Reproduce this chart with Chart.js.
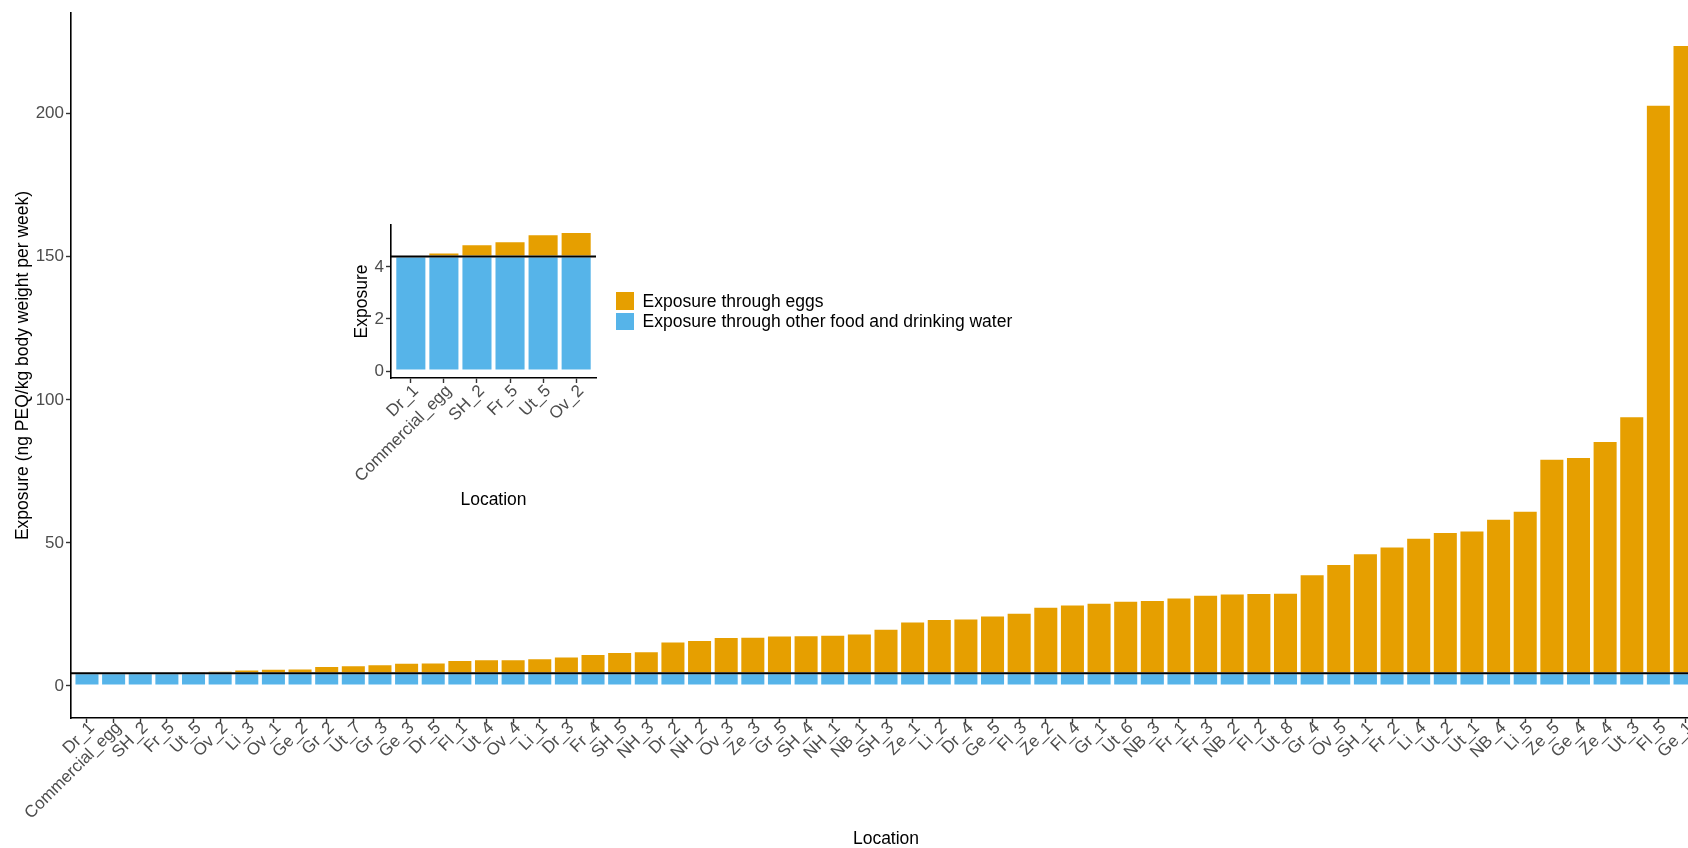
<!DOCTYPE html>
<html>
<head>
<meta charset="utf-8">
<title>Exposure by location</title>
<script src="https://cdn.jsdelivr.net/npm/chart.js@4/dist/chart.umd.min.js"></script>
<style>
  html, body { margin: 0; padding: 0; background: #fff; overflow: hidden; width: 1688px; height: 848px; }
  #main { position: absolute; left: 0; top: 0; }
  #inset { position: absolute; left: 330px; top: 212px; }
  #legend { position: absolute; left: 616px; top: 291px; font-family: "Liberation Sans", Arial, Helvetica, sans-serif; font-size: 17.5px; color: #000; }
  .item { display: flex; align-items: center; height: 20.3px; white-space: nowrap; }
  .swatch { width: 17.6px; height: 17.6px; margin-right: 9px; flex: none; }
</style>
</head>
<body>
<canvas id="main" width="1720" height="848"></canvas>
<canvas id="inset" width="280" height="300"></canvas>
<div id="legend"></div>
<script>
// Sampling locations, ordered by total weekly exposure
const locations = [
  'Dr_1', 'Commercial_egg', 'SH_2', 'Fr_5', 'Ut_5', 'Ov_2', 'Li_3', 'Ov_1', 'Ge_2', 'Gr_2',
  'Ut_7', 'Gr_3', 'Ge_3', 'Dr_5', 'Fl_1', 'Ut_4', 'Ov_4', 'Li_1', 'Dr_3', 'Fr_4',
  'SH_5', 'NH_3', 'Dr_2', 'NH_2', 'Ov_3', 'Ze_3', 'Gr_5', 'SH_4', 'NH_1', 'NB_1',
  'SH_3', 'Ze_1', 'Li_2', 'Dr_4', 'Ge_5', 'Fl_3', 'Ze_2', 'Fl_4', 'Gr_1', 'Ut_6',
  'NB_3', 'Fr_1', 'Fr_3', 'NB_2', 'Fl_2', 'Ut_8', 'Gr_4', 'Ov_5', 'SH_1', 'Fr_2',
  'Li_4', 'Ut_2', 'Ut_1', 'NB_4', 'Li_5', 'Ze_5', 'Ge_4', 'Ze_4', 'Ut_3', 'Fl_5',
  'Ge_1'
];

// Background exposure through other food and drinking water (ng PEQ/kg bw per week)
const otherFoodWater = [
  4.4, 4.4, 4.4, 4.4, 4.4, 4.4, 4.4, 4.4, 4.4, 4.4,
  4.4, 4.4, 4.4, 4.4, 4.4, 4.4, 4.4, 4.4, 4.4, 4.4,
  4.4, 4.4, 4.4, 4.4, 4.4, 4.4, 4.4, 4.4, 4.4, 4.4,
  4.4, 4.4, 4.4, 4.4, 4.4, 4.4, 4.4, 4.4, 4.4, 4.4,
  4.4, 4.4, 4.4, 4.4, 4.4, 4.4, 4.4, 4.4, 4.4, 4.4,
  4.4, 4.4, 4.4, 4.4, 4.4, 4.4, 4.4, 4.4, 4.4, 4.4,
  4.4
];

// Additional exposure through eggs (ng PEQ/kg bw per week)
const eggs = [
  0.0, 0.15, 0.47, 0.58, 0.85, 0.94, 1.32, 1.62, 1.68, 2.6,
  2.82, 3.18, 3.7, 3.76, 4.7, 4.9, 4.92, 5.3, 5.9, 6.8,
  7.5, 7.7, 11.1, 11.7, 12.7, 12.8, 13.2, 13.3, 13.5, 13.9,
  15.6, 18.1, 19.0, 19.2, 20.2, 21.2, 23.3, 24.1, 24.7, 25.4,
  25.6, 26.5, 27.5, 27.9, 28.1, 28.15, 34.6, 38.2, 42.0, 44.3,
  47.4, 49.4, 49.9, 54.0, 56.8, 75.0, 75.6, 81.2, 89.9, 198.7,
  219.6
];

// Tolerable weekly intake drawn as a horizontal reference
const referenceLevel = 4.4;

// Number of lowest locations repeated in the zoomed panel
const insetCount = 6;

const FONT = '"Liberation Sans", Arial, Helvetica, sans-serif';
const EGG_COLOUR = '#E69F00';
const OTHER_COLOUR = '#56B4E9';
const TICK_COLOUR = '#4D4D4D';

Chart.defaults.font.family = FONT;
Chart.defaults.color = TICK_COLOUR;

function buildChart(canvas, cats, other, egg, cfg) {
  const totals = other.map((v, i) => v + egg[i]);
  const top = Math.max(...totals);
  // 5% headroom above and below, like a default ggplot continuous scale
  const yMin = -0.05 * top;
  const yMax = top * 1.05;
  // 0.6 category of padding on each side of a discrete axis
  const xMin = -0.6;
  const xMax = cats.length - 1 + 0.6;
  const points = arr => arr.map((v, i) => ({ x: i, y: v }));

  const tickFont = { size: 17 };
  const titleFont = { size: 17.5, lineHeight: 1 };
  const grid = {
    display: true, drawOnChartArea: false, drawTicks: true, offset: false,
    tickLength: 5, tickWidth: 1.4, tickColor: '#333333'
  };
  const border = { display: true, color: '#000', width: 1.6 };
  const barStyle = {
    borderColor: '#ffffff', borderWidth: 1, borderSkipped: false,
    categoryPercentage: 0.94, barPercentage: 1
  };

  return new Chart(canvas, {
    type: 'bar',
    data: {
      datasets: [
        {
          type: 'line', label: 'reference',
          data: [{ x: xMin, y: referenceLevel }, { x: xMax, y: referenceLevel }],
          borderColor: '#000', borderWidth: 2, pointRadius: 0, order: -1
        },
        Object.assign({ label: 'Exposure through other food and drinking water', data: points(other), backgroundColor: OTHER_COLOUR }, barStyle),
        Object.assign({ label: 'Exposure through eggs', data: points(egg), backgroundColor: EGG_COLOUR }, barStyle)
      ]
    },
    options: {
      responsive: false,
      animation: false,
      devicePixelRatio: 1,
      layout: { padding: { left: 0, top: cfg.padTop, right: cfg.padRight, bottom: 0 } },
      plugins: { legend: { display: false }, tooltip: { enabled: false } },
      scales: {
        x: {
          type: 'linear', stacked: true, offset: false, min: xMin, max: xMax,
          grid: grid, border: border,
          ticks: {
            stepSize: 1, includeBounds: false, autoSkip: false,
            minRotation: 45, maxRotation: 45, padding: cfg.xLabelPad, labelOffset: 5,
            font: tickFont, color: TICK_COLOUR,
            callback: v => (Number.isInteger(v) && cats[v] !== undefined) ? cats[v] : ''
          },
          title: { display: true, text: 'Location', color: '#000', font: titleFont, padding: { top: 0, bottom: cfg.xTitlePad } },
          afterFit: s => { s.height = cfg.xHeight; }
        },
        y: {
          type: 'linear', stacked: true, min: yMin, max: yMax,
          grid: grid, border: border,
          ticks: { stepSize: cfg.yStep, includeBounds: false, padding: 2, font: tickFont, color: TICK_COLOUR },
          title: { display: true, text: cfg.yTitle, color: '#000', font: titleFont, padding: { top: cfg.yTitlePad, bottom: 0 } },
          afterFit: s => { s.width = cfg.yWidth; }
        }
      }
    }
  });
}

const mainChart = buildChart(document.getElementById('main'), locations, otherFoodWater, eggs, {
  yStep: 50, yWidth: 71, xHeight: 130, padTop: 13, padRight: 19, xLabelPad: -5,
  yTitle: 'Exposure (ng PEQ/kg body weight per week)', yTitlePad: 14, xTitlePad: 0
});

buildChart(document.getElementById('inset'),
  locations.slice(0, insetCount), otherFoodWater.slice(0, insetCount), eggs.slice(0, insetCount), {
  yStep: 2, yWidth: 61, xHeight: 134, padTop: 13, padRight: 14, xLabelPad: -2,
  yTitle: 'Exposure', yTitlePad: 23, xTitlePad: 3
});

// Legend: eggs first, then the background exposure
const legend = document.getElementById('legend');
[2, 1].forEach(idx => {
  const ds = mainChart.data.datasets[idx];
  const item = document.createElement('div');
  item.className = 'item';
  const sw = document.createElement('span');
  sw.className = 'swatch';
  sw.style.background = ds.backgroundColor;
  const txt = document.createElement('span');
  txt.textContent = ds.label;
  item.appendChild(sw);
  item.appendChild(txt);
  legend.appendChild(item);
});
</script>
</body>
</html>
